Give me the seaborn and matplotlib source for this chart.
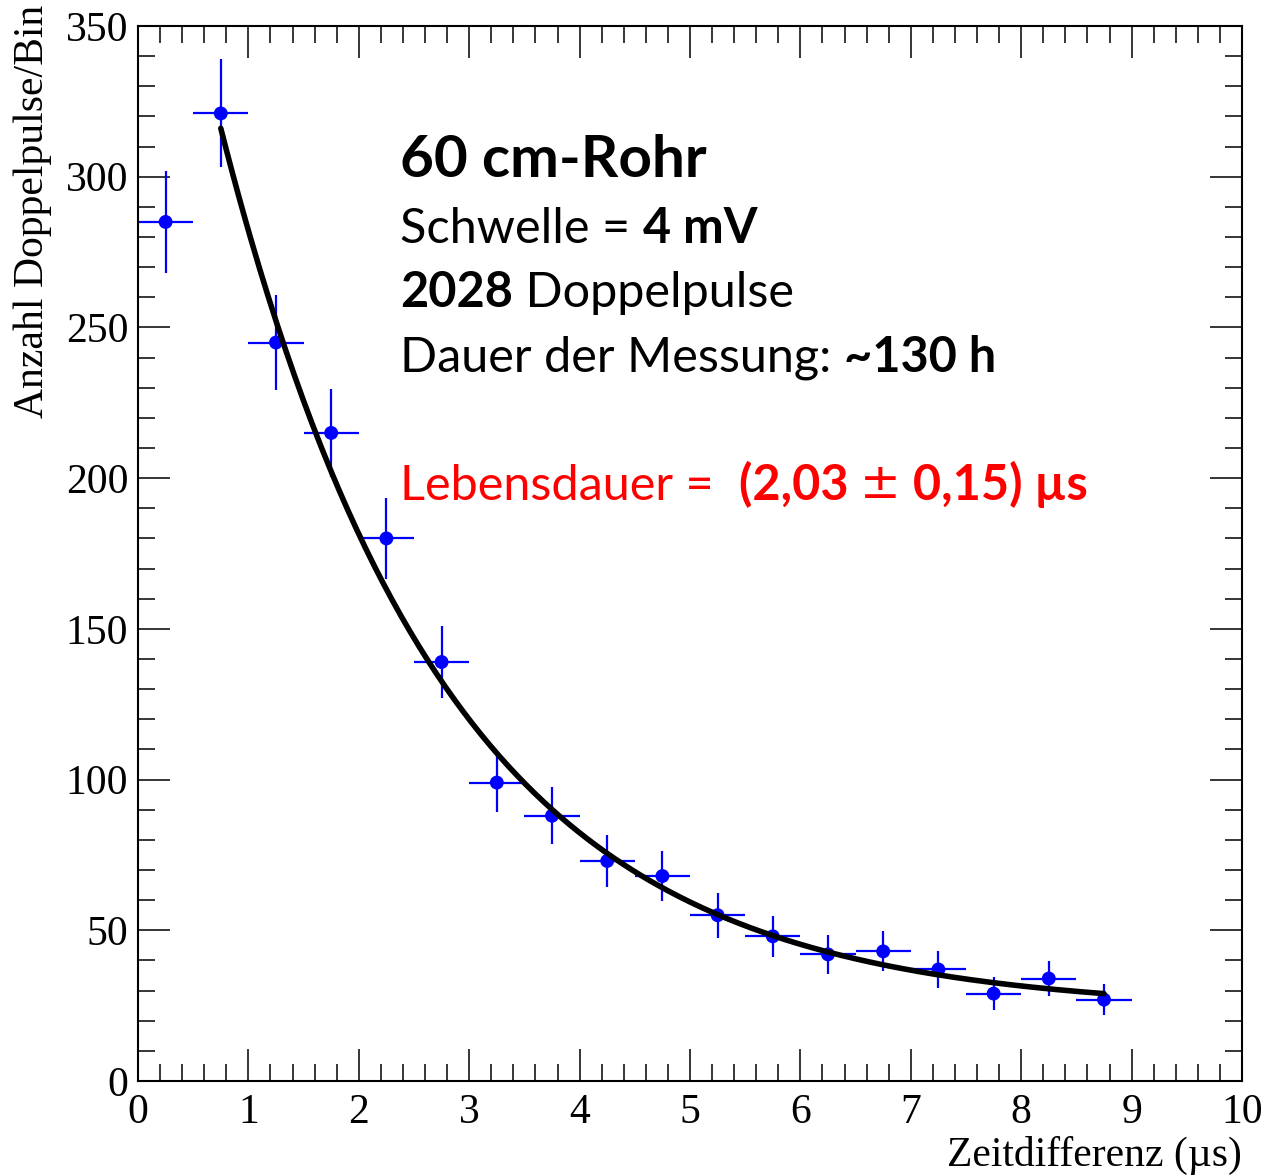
import numpy as np
import pandas as pd
import matplotlib
matplotlib.use("Agg")
import matplotlib.pyplot as plt
import seaborn as sns
from matplotlib.ticker import MultipleLocator

# ---------------- data ----------------
bin_centers = [0.25, 0.75, 1.25, 1.75, 2.25, 2.75, 3.25, 3.75, 4.25,
               4.75, 5.25, 5.75, 6.25, 6.75, 7.25, 7.75, 8.25, 8.75]
counts = [285, 321, 245, 215, 180, 139, 99, 88, 73,
          68, 55, 48, 42, 43, 37, 29, 34, 27]
count_err = [16.9, 17.9, 15.7, 14.7, 13.4, 11.8, 9.9, 9.4, 8.5,
             8.2, 7.4, 6.9, 6.5, 6.6, 6.1, 5.4, 5.8, 5.2]
bin_halfwidth = 0.25

# fit: N(t) = A * exp(-t / tau) + C
fit_tau = 2.03
fit_amp = 423.6
fit_const = 23.3
fit_start, fit_end = 0.75, 8.75

xtick_labels = ["0", "1", "2", "3", "4", "5", "6", "7", "8", "9", "10"]
ytick_labels = ["0", "50", "100", "150", "200", "250", "300", "350"]

# ---------------- style ----------------
sns.set_theme(style="white")
plt.rcParams["font.family"] = ["Liberation Serif", "DejaVu Serif"]
plt.rcParams["axes.labelcolor"] = "black"
plt.rcParams["text.color"] = "black"

W, H = 1265, 1176
fig = plt.figure(figsize=(W / 100, H / 100), dpi=100)
ax = fig.add_axes([138 / W, 1 - 1081 / H, (1242 - 138) / W, (1081 - 26) / H])

df = pd.DataFrame({"t": bin_centers, "n": counts, "err": count_err})

ax.errorbar(df["t"], df["n"], xerr=bin_halfwidth, yerr=df["err"], fmt="none",
            ecolor="#0000ff", elinewidth=1.6, capsize=0, zorder=2)
sns.scatterplot(data=df, x="t", y="n", color="#0000ff", s=100, edgecolor="none",
                ax=ax, zorder=3, legend=False)

t_fit = np.linspace(fit_start, fit_end, 300)
fit_df = pd.DataFrame({"t": t_fit, "n": fit_amp * np.exp(-t_fit / fit_tau) + fit_const})
sns.lineplot(data=fit_df, x="t", y="n", color="black", lw=4.0, ax=ax, zorder=4)

ax.set_xlim(0, 10)
ax.set_ylim(0, 350)
ax.xaxis.set_major_locator(MultipleLocator(1))
ax.xaxis.set_minor_locator(MultipleLocator(0.2))
ax.yaxis.set_major_locator(MultipleLocator(50))
ax.yaxis.set_minor_locator(MultipleLocator(10))
ax.set_xticks(range(0, 11))
ax.set_xticklabels(xtick_labels)
ax.set_yticks(range(0, 351, 50))
ax.set_yticklabels(ytick_labels)

ax.tick_params(which="both", direction="in", top=True, right=True,
               bottom=True, left=True, color="black", width=1.1)
ax.tick_params(which="major", length=23, labelsize=30, labelcolor="black")
ax.tick_params(which="minor", length=12)
ax.tick_params(axis="x", which="major", pad=9)
ax.tick_params(axis="y", which="major", pad=7)
for sp in ax.spines.values():
    sp.set_color("black")
    sp.set_linewidth(1.5)

ax.set_xlabel("Zeitdifferenz (µs)", fontsize=30, loc="right", color="black")
ax.xaxis.set_label_coords(1.0, -(1155 - 1081) / 1055)
ax.xaxis.label.set_va("center")
ax.set_ylabel("Anzahl Doppelpulse/Bin", fontsize=30, loc="top", color="black")
ax.yaxis.set_label_coords(-(105) / 1104, (1081 - 5) / 1055)
ax.yaxis.label.set_va("center")

# ---------------- annotation text ----------------
sans = ["Lato", "DejaVu Sans"]


def chain(parts, x_px, base_px, color, size):
    prev = None
    for part in parts:
        s, w = part[0], part[1]
        fam = part[2] if len(part) > 2 else sans
        if prev is None:
            prev = fig.text(x_px / W, 1 - base_px / H, s, fontsize=size, fontweight=w,
                            color=color, family=fam, ha="left", va="baseline")
        else:
            prev = ax.annotate(s, xy=(1, 0), xycoords=prev, fontsize=size,
                               fontweight=w, color=color, family=fam,
                               ha="left", va="bottom")


chain([("60 cm-Rohr", "bold")], 400, 177, "black", 42)
chain([("Schwelle = ", "normal"), ("4 mV", "bold")], 400, 243, "black", 35)
chain([("2028", "bold"), (" Doppelpulse", "normal")], 400, 307, "black", 35)
chain([("Dauer der Messung: ", "normal"), ("~130 h", "bold")], 400, 372, "black", 35)
chain([("Lebensdauer =  ", "normal"), ("(2,03 ", "bold"),
       ("±", "normal", ["DejaVu Sans"]), (" 0,15) µs", "bold")],
      400, 500, "#ff0000", 35)

fig.savefig("out.png", dpi=100)
